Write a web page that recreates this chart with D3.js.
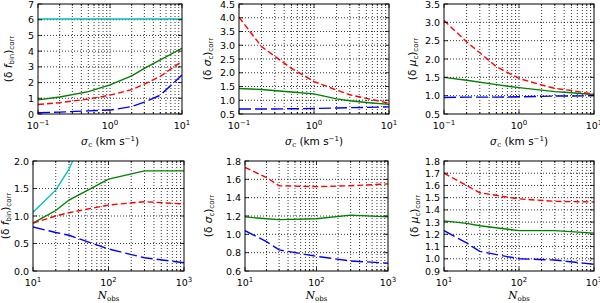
<!DOCTYPE html>
<html>
<head>
<meta charset="utf-8">
<script src="https://cdn.jsdelivr.net/npm/d3@7"></script>
<style>
  body { margin: 0; background: #fff; }
  svg text { font-family: "DejaVu Sans", sans-serif; }
</style>
</head>
<body>
<div id="plot"></div>
<script>
const WIDTH = 600;
const HEIGHT = 303;

// x values
const sigmaC = [0.1, 0.2, 0.5, 1, 2, 3, 5, 10];
const nObs = [10, 20, 30, 100, 300, 1000];

// top row: error ratio vs sigma_c
const fbinCyanS = [6.05, 6.05, 6.05, 6.05, 6.05, 6.05, 6.05, 6.05];
const fbinGreenS = [0.9, 1.08, 1.42, 1.85, 2.42, 2.9, 3.44, 4.18];
const fbinRedS = [0.6, 0.72, 0.95, 1.2, 1.55, 1.9, 2.4, 3.35];
const fbinBlueS = [0.08, 0.12, 0.2, 0.25, 0.47, 0.75, 1.2, 2.48];

const sigGreenS = [1.43, 1.39, 1.3, 1.23, 1.05, 0.98, 0.92, 0.85];
const sigRedS = [4.02, 2.95, 2.16, 1.68, 1.37, 1.2, 1.07, 0.89];
const sigBlueS = [0.68, 0.68, 0.69, 0.7, 0.72, 0.73, 0.74, 0.76];

const muGreenS = [1.5, 1.42, 1.3, 1.22, 1.15, 1.11, 1.08, 1.03];
const muRedS = [3.05, 2.47, 1.79, 1.47, 1.29, 1.2, 1.14, 1.04];
const muBlueS = [0.95, 0.96, 0.96, 0.97, 0.98, 0.99, 0.99, 1.0];

// bottom row: error ratio vs N_obs
const fbinCyanN = [1.07, 1.47, 1.85, 3.5, 5, 6];
const fbinGreenN = [0.87, 1.1, 1.29, 1.67, 1.82, 1.82];
const fbinRedN = [0.87, 1.0, 1.06, 1.2, 1.26, 1.22];
const fbinBlueN = [0.8, 0.7, 0.65, 0.4, 0.24, 0.15];

const sigRedN = [1.73, 1.62, 1.53, 1.52, 1.53, 1.55];
const sigGreenN = [1.19, 1.17, 1.16, 1.17, 1.21, 1.19];
const sigBlueN = [1.04, 0.92, 0.83, 0.76, 0.71, 0.685];

const muRedN = [1.7, 1.6, 1.54, 1.49, 1.47, 1.465];
const muGreenN = [1.31, 1.29, 1.27, 1.23, 1.23, 1.21];
const muBlueN = [1.23, 1.13, 1.06, 1.0, 0.99, 0.955];

// tick labels
const yTicksFbinS = [0, 1, 2, 3, 4, 5, 6, 7];
const yTicksSigS = [0.5, 1.0, 1.5, 2.0, 2.5, 3.0, 3.5, 4.0, 4.5];
const yTicksMuS = [0.5, 1.0, 1.5, 2.0, 2.5, 3.0, 3.5];
const yTicksFbinN = [0.0, 0.5, 1.0, 1.5, 2.0];
const yTicksSigN = [0.6, 0.8, 1.0, 1.2, 1.4, 1.6, 1.8];
const yTicksMuN = [0.9, 1.0, 1.1, 1.2, 1.3, 1.4, 1.5, 1.6, 1.7, 1.8];
const xExpS = [-1, 0, 1];
const xExpN = [1, 2, 3];

const STYLE = {
    cyan: { color: '#00bfbf', dash: null },
    green: { color: '#008000', dash: null },
    red: { color: '#ff0000', dash: '6,3' },
    blue: { color: '#0000ff', dash: '12,4' }
};

var svg = d3.select('#plot')
    .append('svg')
    .attr('width', WIDTH)
    .attr('height', HEIGHT);

let panels = [
    { box: [38, 182, 4, 114], x: sigmaC, xdom: [0.1, 10], xexp: xExpS, ydom: [0, 7], yticks: yTicksFbinS, fmt: d3.format('d'),
      ylab: ['f', 'bin'], ylabX: 12, row: 0,
      series: [['cyan', fbinCyanS], ['green', fbinGreenS], ['red', fbinRedS], ['blue', fbinBlueS]] },
    { box: [239, 389, 4, 114], x: sigmaC, xdom: [0.1, 10], xexp: xExpS, ydom: [0.5, 4.5], yticks: yTicksSigS, fmt: d3.format('.1f'),
      ylab: ['σ', 'c'], ylabX: 211, row: 0,
      series: [['green', sigGreenS], ['red', sigRedS], ['blue', sigBlueS]] },
    { box: [444, 594, 4, 114], x: sigmaC, xdom: [0.1, 10], xexp: xExpS, ydom: [0.5, 3.5], yticks: yTicksMuS, fmt: d3.format('.1f'),
      ylab: ['μ', 'c'], ylabX: 416, row: 0,
      series: [['green', muGreenS], ['red', muRedS], ['blue', muBlueS]] },
    { box: [33, 184, 161, 271], x: nObs, xdom: [10, 1000], xexp: xExpN, ydom: [0, 2], yticks: yTicksFbinN, fmt: d3.format('.1f'),
      ylab: ['f', 'bin'], ylabX: 9, row: 1,
      series: [['cyan', fbinCyanN], ['green', fbinGreenN], ['red', fbinRedN], ['blue', fbinBlueN]] },
    { box: [245, 388, 161, 271], x: nObs, xdom: [10, 1000], xexp: xExpN, ydom: [0.6, 1.8], yticks: yTicksSigN, fmt: d3.format('.1f'),
      ylab: ['σ', 'c'], ylabX: 212, row: 1,
      series: [['red', sigRedN], ['green', sigGreenN], ['blue', sigBlueN]] },
    { box: [444, 594, 161, 271], x: nObs, xdom: [10, 1000], xexp: xExpN, ydom: [0.9, 1.8], yticks: yTicksMuN, fmt: d3.format('.1f'),
      ylab: ['μ', 'c'], ylabX: 418, row: 1,
      series: [['red', muRedN], ['green', muGreenN], ['blue', muBlueN]] }
];


function minorTicks(dom) {
    let out = [];
    for (let e = Math.log10(dom[0]); e < Math.log10(dom[1]); e++) {
        for (let k = 1; k < 10; k++) {
            out.push(k * Math.pow(10, e));
        }
    }
    out.push(dom[1]);
    return out;
}


function drawPanel(p, idx) {
    let [l, r, t, b] = p.box;
    let xs = d3.scaleLog().domain(p.xdom).range([l, r]);
    let ys = d3.scaleLinear().domain(p.ydom).range([b, t]);
    let g = svg.append('g');

    let clipId = 'clip' + idx;
    svg.append('clipPath').attr('id', clipId)
        .append('rect').attr('x', l).attr('y', t).attr('width', r - l).attr('height', b - t);

    let allX = minorTicks(p.xdom);
    let majorX = p.xexp.map(e => Math.pow(10, e));

    // grid: vertical at every log tick, horizontal at major y ticks
    g.selectAll('.vgrid')
        .data(allX.filter(v => v > p.xdom[0] && v < p.xdom[1]))
        .enter().append('line')
        .attr('x1', d => xs(d)).attr('x2', d => xs(d))
        .attr('y1', t).attr('y2', b)
        .attr('stroke', '#000').attr('stroke-width', 0.8)
        .attr('stroke-dasharray', '1,2');
    g.selectAll('.hgrid')
        .data(p.yticks.filter(v => v > p.ydom[0] + 1e-9 && v < p.ydom[1] - 1e-9))
        .enter().append('line')
        .attr('x1', l).attr('x2', r)
        .attr('y1', d => ys(d)).attr('y2', d => ys(d))
        .attr('stroke', '#000').attr('stroke-width', 0.8)
        .attr('stroke-dasharray', '1,2');

    // data lines
    let line = d3.line().x((d, i) => xs(p.x[i])).y(d => ys(d));
    let lg = g.append('g').attr('clip-path', 'url(#' + clipId + ')');
    p.series.forEach(([key, vals]) => {
        lg.append('path')
            .datum(vals)
            .attr('d', line)
            .attr('fill', 'none')
            .attr('stroke', STYLE[key].color)
            .attr('stroke-width', 1.4)
            .attr('stroke-dasharray', STYLE[key].dash);
    });

    // ticks, inward on all four sides
    allX.forEach(v => {
        let len = majorX.some(m => Math.abs(m - v) < 1e-9) ? 4 : 2;
        g.append('line').attr('x1', xs(v)).attr('x2', xs(v)).attr('y1', b).attr('y2', b - len)
            .attr('stroke', '#000').attr('stroke-width', 0.8);
        g.append('line').attr('x1', xs(v)).attr('x2', xs(v)).attr('y1', t).attr('y2', t + len)
            .attr('stroke', '#000').attr('stroke-width', 0.8);
    });
    p.yticks.forEach(v => {
        g.append('line').attr('x1', l).attr('x2', l + 4).attr('y1', ys(v)).attr('y2', ys(v))
            .attr('stroke', '#000').attr('stroke-width', 0.8);
        g.append('line').attr('x1', r).attr('x2', r - 4).attr('y1', ys(v)).attr('y2', ys(v))
            .attr('stroke', '#000').attr('stroke-width', 0.8);
    });

    // frame
    g.append('rect')
        .attr('x', l).attr('y', t).attr('width', r - l).attr('height', b - t)
        .attr('fill', 'none').attr('stroke', '#000').attr('stroke-width', 1);

    // y tick labels
    g.selectAll('.ylab')
        .data(p.yticks)
        .enter().append('text')
        .attr('x', l - 4).attr('y', d => ys(d) + 3.5)
        .attr('text-anchor', 'end')
        .attr('font-size', 9.5)
        .text(d => p.fmt(d));

    // x tick labels 10^e
    p.xexp.forEach(e => {
        let tx = g.append('text')
            .attr('x', xs(Math.pow(10, e))).attr('y', b + 15)
            .attr('text-anchor', 'middle')
            .attr('font-size', 9.5);
        tx.append('tspan').text('10');
        tx.append('tspan').attr('dy', -4).attr('font-size', 7).text(e < 0 ? '\u2212' + (-e) : String(e));
    });

    // y axis label
    let yl = g.append('text')
        .attr('transform', 'translate(' + p.ylabX + ',' + ((t + b) / 2) + ') rotate(-90)')
        .attr('text-anchor', 'middle')
        .attr('font-size', 10.5)
        .attr('font-family', 'DejaVu Serif');
    yl.append('tspan').text('(δ ');
    yl.append('tspan').attr('font-style', 'italic').text(p.ylab[0]);
    yl.append('tspan').attr('font-size', 7).attr('dy', 2).text(p.ylab[1]);
    yl.append('tspan').attr('dy', -2).text(')');
    yl.append('tspan').attr('font-size', 7).attr('dy', 2).text('corr');

    // x axis label
    let xl = g.append('text')
        .attr('x', (l + r) / 2)
        .attr('y', p.row == 0 ? b + 31 : b + 28)
        .attr('text-anchor', 'middle')
        .attr('font-size', 10.5);
    if (p.row == 0) {
        xl.append('tspan').attr('font-family', 'DejaVu Serif').attr('font-style', 'italic').text('σ');
        xl.append('tspan').attr('font-family', 'DejaVu Serif').attr('font-size', 7).attr('dy', 2).text('c');
        xl.append('tspan').attr('dy', -2).text(' (km s');
        xl.append('tspan').attr('font-size', 7).attr('dy', -4).text('\u22121');
        xl.append('tspan').attr('dy', 4).text(')');
    } else {
        xl.append('tspan').attr('font-family', 'DejaVu Serif').attr('font-style', 'italic').text('N');
        xl.append('tspan').attr('font-family', 'DejaVu Serif').attr('font-size', 7).attr('dy', 2).text('obs');
    }
}


panels.forEach(drawPanel);
</script>
</body>
</html>
